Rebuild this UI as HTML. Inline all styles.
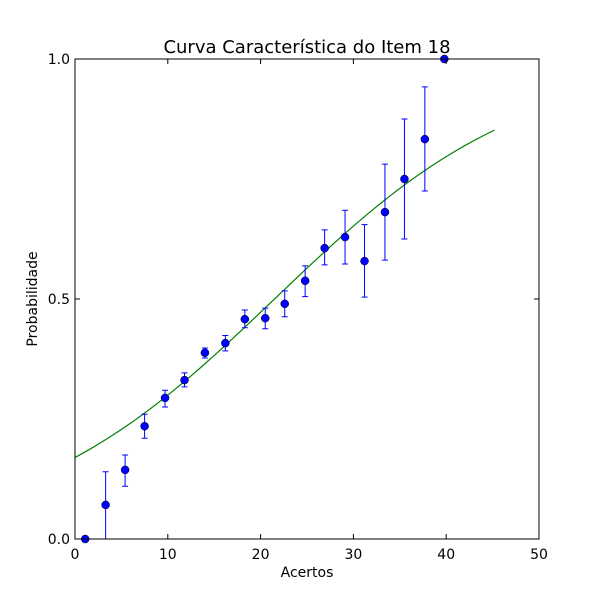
<!DOCTYPE html>
<html><head><meta charset="utf-8"><style>
body{margin:0;background:#fff;font-family:"DejaVu Sans","Liberation Sans",sans-serif}
</style></head><body>
<svg id="chart" width="600" height="600" xmlns="http://www.w3.org/2000/svg" font-family="DejaVu Sans, Liberation Sans, sans-serif">
<rect width="600" height="600" fill="#fff"/>
<text x="307" y="53" font-size="18" text-anchor="middle">Curva Característica do Item 18</text>
<text x="307" y="577" font-size="14" text-anchor="middle">Acertos</text>
<text x="37" y="299" font-size="14" text-anchor="middle" transform="rotate(-90 37 299)">Probabilidade</text>
<g id="plot"></g>
</svg>
<script>
const xs=[1.1,3.3,5.4,7.5,9.7,11.8,14.0,16.2,18.3,20.5,22.6,24.8,26.9,29.1,31.2,33.4,35.5,37.7,39.8];
const ys=[0,0.071,0.144,0.235,0.294,0.331,0.388,0.408,0.458,0.46,0.49,0.538,0.606,0.629,0.579,0.681,0.75,0.833,1.0];
const errLow=[0,0.0,0.11,0.21,0.275,0.317,0.377,0.392,0.44,0.438,0.463,0.505,0.571,0.573,0.504,0.581,0.625,0.725,1.0];
const errHigh=[0,0.14,0.175,0.26,0.31,0.346,0.398,0.424,0.477,0.481,0.517,0.569,0.644,0.685,0.655,0.781,0.875,0.942,1.0];
const xTicks=[0,10,20,30,40,50];
const yTicks=[0,0.5,1.0];
const yTickLabels=["0.0","0.5","1.0"];
const curveSlope=0.0738, curveMid=21.5, curveXMax=45.2;
const L=75,R=539,T=59,B=539;
const sx=v=>L+(v-0)/(50-0)*(R-L);
const sy=v=>B-(v-0)/(1-0)*(B-T);
const NS="http://www.w3.org/2000/svg";
const g=document.getElementById('plot');
function mk(t,a){const e=document.createElementNS(NS,t);for(const k in a)e.setAttribute(k,a[k]);g.appendChild(e);return e;}
let d="";
for(let i=0;i<=90;i++){const x=curveXMax*i/90;const y=1/(1+Math.exp(-curveSlope*(x-curveMid)));d+=(i?"L":"M")+sx(x).toFixed(2)+","+sy(y).toFixed(2);}
const c=mk('path',{d:d,fill:'none',stroke:'#008000','stroke-width':1.2});


xs.forEach((x,i)=>{
  const px=sx(x);
  if(errHigh[i]!==errLow[i]){
    const eb=mk('path',{d:`M${px},${sy(errLow[i])}V${sy(errHigh[i])}M${px-3},${sy(errLow[i])}H${px+3}M${px-3},${sy(errHigh[i])}H${px+3}`,stroke:'#0000ff','stroke-width':1,fill:'none'});
    
    
  }
  const p=mk('circle',{cx:px,cy:sy(ys[i]),r:4,fill:'#0000ff',stroke:'#000','stroke-width':0.5});
  
  
});
const f=mk('rect',{x:L,y:T,width:R-L,height:B-T,fill:'none',stroke:'#000','stroke-width':1});


xTicks.forEach(v=>{
  const px=sx(v);
  const t=mk('path',{d:`M${px},${B}v-5M${px},${T}v5`,stroke:'#000'});
  
  
  const l=mk('text',{x:px,y:B+20,'font-size':14,'text-anchor':'middle'});l.textContent=v;
  
  
});
yTicks.forEach((v,i)=>{
  const py=sy(v);
  const t=mk('path',{d:`M${L},${py}h5M${R},${py}h-5`,stroke:'#000'});
  
  
  const l=mk('text',{x:L-5,y:py+5,'font-size':14,'text-anchor':'end'});l.textContent=yTickLabels[i];
  
  
});
</script>
</body></html>
